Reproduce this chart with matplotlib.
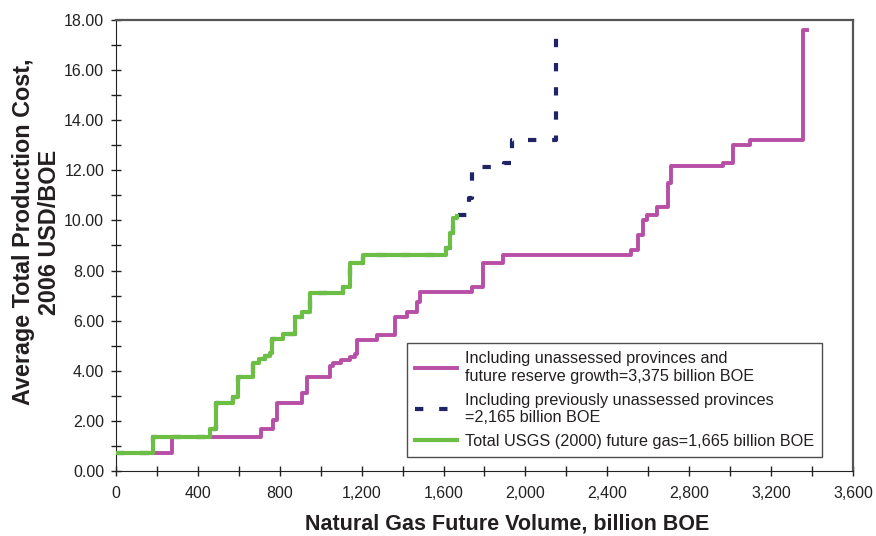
import matplotlib
matplotlib.use("Agg")
import matplotlib.pyplot as plt
from matplotlib.ticker import MultipleLocator, FuncFormatter

plt.rcParams['font.family'] = ['Liberation Sans', 'DejaVu Sans']

# step curves: volume where the step happens, cost level after the step
purple_x = [0, 272, 708, 767, 786, 907, 931, 1045, 1060, 1100, 1143, 1167, 1178,
            1273, 1363, 1420, 1469, 1485, 1737, 1793, 1890, 2515, 2550, 2575,
            2592, 2641, 2697, 2709, 2966, 3014, 3097, 3354, 3375]
purple_y = [0.70, 1.37, 1.68, 2.05, 2.73, 3.10, 3.75, 4.19, 4.32, 4.42, 4.56, 4.68, 5.23,
            5.43, 6.16, 6.36, 6.76, 7.14, 7.36, 8.30, 8.62, 8.82, 9.42, 10.02,
            10.22, 10.55, 11.49, 12.19, 12.28, 13.01, 13.21, 17.62, 17.62]

green_x = [0, 179, 459, 488, 573, 596, 667, 700, 730, 752, 760, 817, 874, 907, 948,
           1110, 1143, 1208, 1612, 1631, 1647, 1665]
green_y = [0.70, 1.37, 1.66, 2.71, 2.97, 3.76, 4.30, 4.45, 4.58, 4.70, 5.26, 5.47, 6.16,
           6.36, 7.12, 7.36, 8.31, 8.62, 8.89, 9.49, 10.09, 10.19]

navy_x = green_x[:-1] + [1665, 1725, 1740, 1895, 1935, 2150, 2160]
navy_y = green_y[:-1] + [10.22, 10.90, 12.15, 12.30, 13.21, 17.68, 17.68]

labels = ["Including unassessed provinces and\nfuture reserve growth=3,375 billion BOE",
          "Including previously unassessed provinces\n=2,165 billion BOE",
          "Total USGS (2000) future gas=1,665 billion BOE"]

fig = plt.figure(figsize=(8.76, 5.36), dpi=100)
ax = fig.add_axes([0.1324, 0.1213, 0.8413, 0.8414])

ax.plot(purple_x, purple_y, drawstyle='steps-post', color='#B84FA6', lw=2.8,
        label=labels[0], zorder=2)
ax.plot(navy_x, navy_y, drawstyle='steps-post', color='#1F2466', lw=3.0,
        dashes=(2.0, 3.8), label=labels[1], zorder=3)
ax.plot(green_x, green_y, drawstyle='steps-post', color='#6DBE45', lw=3.0,
        label=labels[2], zorder=4)

ax.set_xlim(0, 3600)
ax.set_ylim(0, 18)
ax.xaxis.set_major_locator(MultipleLocator(400))
ax.xaxis.set_minor_locator(MultipleLocator(200))
ax.yaxis.set_major_locator(MultipleLocator(2))
ax.yaxis.set_minor_locator(MultipleLocator(1))
ax.xaxis.set_major_formatter(FuncFormatter(lambda v, p: f"{int(v):,}"))
ax.yaxis.set_major_formatter(FuncFormatter(lambda v, p: f"{v:.2f}"))
ax.tick_params(which='both', direction='inout', length=7, width=1, colors='#222222',
               labelsize=11.5)
ax.tick_params(axis='x', pad=7)
ax.tick_params(axis='y', pad=5)

for side in ['left', 'bottom']:
    ax.spines[side].set_color('#222222')
for side in ['top', 'right']:
    ax.spines[side].set_color('#555555')
    ax.spines[side].set_linewidth(1.6)

ax.set_xlabel("Natural Gas Future Volume, billion BOE", fontsize=15.5,
              fontweight='bold', color='#231f20')
ax.xaxis.set_label_coords(0.5305, -0.095)
ax.set_ylabel("Average Total Production Cost,\n2006 USD/BOE", fontsize=16.8,
              fontweight='bold', color='#231f20')
ax.yaxis.set_label_coords(-0.074, 0.53)

leg = ax.legend(loc='lower left', bbox_to_anchor=(0.395, 0.031), borderaxespad=0,
                fontsize=11.7, handlelength=2.6, handletextpad=0.45, frameon=True,
                fancybox=False, edgecolor='#222222', labelspacing=0.55,
                borderpad=0.5)
leg.get_frame().set_linewidth(1.0)
for t in leg.get_texts():
    t.set_color('#231f20')

fig.savefig("out.png", dpi=100)
